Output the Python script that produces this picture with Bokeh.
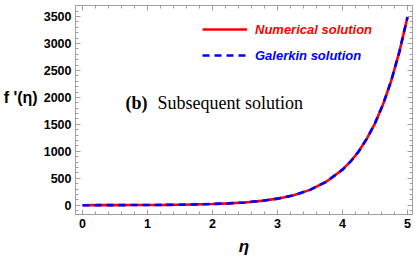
from bokeh.plotting import figure
from bokeh.models import Range1d, LinearAxis, Label, Legend, LegendItem, FixedTicker
from bokeh.embed import file_html
from bokeh.resources import INLINE

eta = [0, 0.25, 0.5, 0.75, 1, 1.25, 1.5, 1.75, 2, 2.25, 2.5, 2.75, 3, 3.25, 3.5, 3.75,
       4, 4.125, 4.25, 4.375, 4.5, 4.625, 4.75, 4.875, 5]
f_numerical = [0, 1, 2, 3, 4, 6, 10, 15, 23, 35, 52, 80, 122, 185, 285, 435,
               660, 812, 1000, 1235, 1520, 1875, 2310, 2845, 3490]
f_galerkin = [0, 1, 2, 3, 4, 6, 10, 15, 23, 35, 52, 80, 122, 185, 285, 435,
              660, 812, 1000, 1235, 1520, 1875, 2310, 2845, 3490]
x_ticks = [0, 1, 2, 3, 4, 5]
y_ticks = [0, 500, 1000, 1500, 2000, 2500, 3000, 3500]
series_names = ["Numerical solution", "Galerkin solution"]
panel_title = ["(b)", "Subsequent solution"]

FRAME = "#a0a0a0"
FONT = "Liberation Sans"

p = figure(width=419, height=259, output_backend="svg", toolbar_location=None,
           x_range=Range1d(-0.108, 5.077), y_range=Range1d(-172, 3705),
           x_axis_location=None, y_axis_location=None,
           min_border_left=75, min_border_right=7, min_border_top=5, min_border_bottom=45)
p.outline_line_color = FRAME
p.xgrid.visible = False
p.ygrid.visible = False
p.background_fill_color = "white"
p.border_fill_color = "white"


def style_axis(ax, labels=True):
    ax.axis_line_color = FRAME
    ax.major_tick_line_color = FRAME
    ax.minor_tick_line_color = FRAME
    ax.major_tick_in = 5
    ax.major_tick_out = 0
    ax.minor_tick_in = 3
    ax.minor_tick_out = 0
    if labels:
        ax.major_label_text_font = FONT
        ax.major_label_text_font_style = "bold"
        ax.major_label_text_font_size = "12.5px"
        ax.major_label_text_color = "black"
        ax.major_label_standoff = 4
    else:
        ax.major_label_text_font_size = "0px"
        ax.major_label_standoff = 0


bottom = LinearAxis(ticker=FixedTicker(ticks=x_ticks, minor_ticks=[i / 5 for i in range(0, 26)]))
style_axis(bottom)
bottom.axis_label = "η"
bottom.axis_label_text_font = FONT
bottom.axis_label_text_font_style = "bold italic"
bottom.axis_label_text_font_size = "17px"
bottom.axis_label_text_color = "black"
bottom.axis_label_standoff = 6
p.add_layout(bottom, "below")

top = LinearAxis(ticker=FixedTicker(ticks=x_ticks, minor_ticks=[i / 5 for i in range(0, 26)]))
style_axis(top, labels=False)
p.add_layout(top, "above")

left = LinearAxis(ticker=FixedTicker(ticks=y_ticks, minor_ticks=[i * 100 for i in range(-1, 37)]))
style_axis(left)
left.axis_label = "f '(η)\n"
left.axis_label_orientation = "horizontal"
left.axis_label_text_font = FONT
left.axis_label_text_font_style = "bold"
left.axis_label_text_font_size = "16px"
left.axis_label_text_color = "black"
left.axis_label_text_baseline = "middle"
left.axis_label_text_line_height = 1.5
left.axis_label_standoff = 3
p.add_layout(left, "left")

right = LinearAxis(ticker=FixedTicker(ticks=y_ticks, minor_ticks=[i * 100 for i in range(-1, 37)]))
style_axis(right, labels=False)
p.add_layout(right, "right")

r1 = p.line(eta, f_numerical, line_color="#ff0000", line_width=2.6)
r2 = p.line(eta, f_galerkin, line_color="#0000ff", line_width=2.6, line_dash="7 5")

for item, color, loc in [(LegendItem(label=series_names[0], renderers=[r1]), "#ff0000", (127, 177)),
                         (LegendItem(label=series_names[1], renderers=[r2]), "#0000ff", (127, 151))]:
    leg = Legend(items=[item], location=loc, background_fill_alpha=0, border_line_color=None,
                 padding=0, margin=0, glyph_width=45, glyph_height=16, label_height=16,
                 label_standoff=8, spacing=0,
                 label_text_font=FONT, label_text_font_style="bold italic",
                 label_text_font_size="13px", label_text_color=color)
    p.add_layout(leg)


def px_x(px):
    return (px - 82) / 65.0


p.add_layout(Label(x=px_x(125), y=1905, text=panel_title[0], text_font="Liberation Serif",
                   text_font_style="bold", text_font_size="18px", text_color="black",
                   text_baseline="middle"))
p.add_layout(Label(x=px_x(157), y=1905, text=panel_title[1], text_font="Liberation Serif",
                   text_font_size="18px", text_color="black", text_baseline="middle"))

open("out.html", "w").write(file_html(p, INLINE))
